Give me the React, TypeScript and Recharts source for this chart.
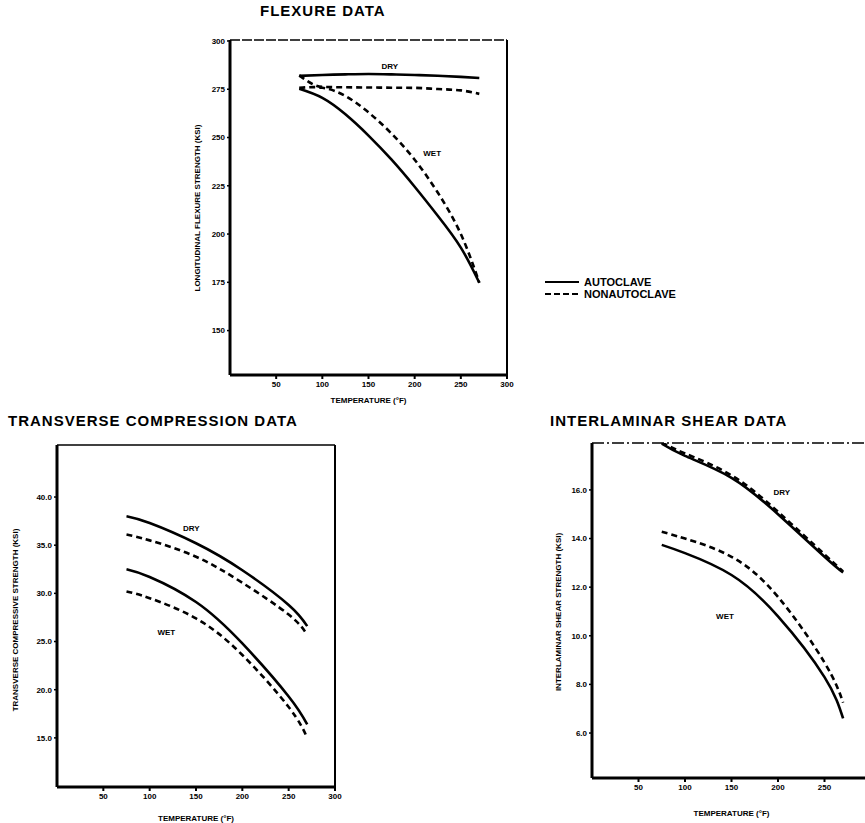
import React from 'react';
import { LineChart, Line, XAxis, YAxis, ReferenceLine, ReferenceDot } from 'recharts';

const FONT = '"Liberation Sans", "DejaVu Sans", Arial, sans-serif';

// temperatures (deg F) and strengths (ksi)
const flexTemps = [75, 100, 125, 150, 175, 200, 225, 250, 270];
const flexDryAuto = [281.9, 282.4, 282.7, 282.9, 282.7, 282.4, 282.0, 281.4, 280.8];
const flexDryNon = [282.2, 276.2, 276.0, 275.9, 275.8, 275.7, 275.1, 274.4, 272.6];
const flexWetAuto = [275.2, 270.5, 262.0, 251.0, 238.5, 224.5, 209.5, 193.0, 174.8];
const flexWetNon = [275.7, 275.8, 271.5, 263.0, 252.0, 238.5, 221.5, 200.0, 174.8];

const tcTemps = [75, 100, 150, 200, 250, 270];
const tcDryAuto = [38.0, 37.3, 35.2, 32.4, 28.8, 26.6];
const tcDryNon = [36.1, 35.5, 33.8, 31.1, 27.8, 25.7];
const tcWetAuto = [32.5, 31.7, 29.1, 24.8, 19.3, 16.4];
const tcWetNon = [30.2, 29.5, 27.4, 23.6, 18.2, 15.0];

const ilsTemps = [75, 100, 150, 200, 250, 270];
const ilsDryAuto = [17.9, 17.4, 16.5, 15.0, 13.25, 12.6];
const ilsDryNon = [17.95, 17.5, 16.6, 15.1, 13.35, 12.65];
const ilsWetAuto = [13.74, 13.4, 12.5, 10.8, 8.3, 6.6];
const ilsWetNon = [14.28, 14.0, 13.25, 11.6, 8.9, 7.25];

const tempTicks = [50, 100, 150, 200, 250, 300];
const ilsTempTicks = [50, 100, 150, 200, 250];
const flexTicks = [150, 175, 200, 225, 250, 275, 300];
const tcTicks = [15, 20, 25, 30, 35, 40];
const ilsTicks = [6, 8, 10, 12, 14, 16];

const build = (temps: number[], da: number[], dn: number[], wa: number[], wn: number[]) =>
  temps.map((t, i) => ({ t, dryAuto: da[i], dryNon: dn[i], wetAuto: wa[i], wetNon: wn[i] }));

const tickStyle = { fontSize: 8, fontWeight: 700, fill: '#000', fontFamily: FONT };

interface PanelProps {
  data: any[];
  width: number;
  height: number;
  marginTop: number;
  marginRight: number;
  yWidth: number;
  xHeight: number;
  xTicks: number[];
  yDomain: [number, number];
  yTicks: number[];
  yDigits: number;
  dryAt: [number, number];
  wetAt: [number, number];
  topDash?: string;
  dryNonCurve?: 'natural' | 'monotone';
}

const Panel: React.FC<PanelProps> = (p) => {
  const lineProps = { type: 'natural' as const, stroke: '#000', strokeWidth: 2.6, dot: false, isAnimationActive: false };
  const labelStyle = { fontSize: 8, fontWeight: 700, fill: '#000', fontFamily: FONT };
  return (
    <LineChart width={p.width} height={p.height} data={p.data}
      margin={{ top: p.marginTop, right: p.marginRight, left: 0, bottom: 0 }}>
      <XAxis dataKey="t" type="number" domain={[0, 300]} ticks={p.xTicks} allowDataOverflow
        height={p.xHeight} axisLine={{ stroke: '#000', strokeWidth: 3 }} tickLine={{ stroke: '#000', strokeWidth: 2 }}
        tickSize={4} tick={tickStyle}
        label={{ value: 'TEMPERATURE (°F)', position: 'insideBottom', offset: 2, style: labelStyle }} />
      <YAxis type="number" domain={p.yDomain} ticks={p.yTicks} allowDataOverflow width={p.yWidth}
        axisLine={{ stroke: '#000', strokeWidth: 3 }} tickLine={{ stroke: '#000', strokeWidth: 1.5 }} tickSize={3}
        tick={tickStyle} tickFormatter={(v: number) => v.toFixed(p.yDigits)} />
      <ReferenceLine y={p.yDomain[1]} stroke="#000" strokeWidth={1.5} strokeDasharray={p.topDash} />
      <ReferenceLine x={300} stroke="#000" strokeWidth={2} />
      <Line {...lineProps} dataKey="dryAuto" />
      <Line {...lineProps} type={p.dryNonCurve || 'natural'} dataKey="dryNon" strokeDasharray="6 4" />
      <Line {...lineProps} dataKey="wetAuto" />
      <Line {...lineProps} dataKey="wetNon" strokeDasharray="6 4" />
      <ReferenceDot x={p.dryAt[0]} y={p.dryAt[1]} r={0} fill="none" stroke="none"
        label={{ value: 'DRY', position: 'center', style: labelStyle }} />
      <ReferenceDot x={p.wetAt[0]} y={p.wetAt[1]} r={0} fill="none" stroke="none"
        label={{ value: 'WET', position: 'center', style: labelStyle }} />
    </LineChart>
  );
};

const titleStyle: React.CSSProperties = {
  position: 'absolute', fontFamily: FONT, fontWeight: 900, fontSize: 15, letterSpacing: 1, color: '#000', whiteSpace: 'nowrap',
};

const yTitle = (text: string, cx: number, cy: number): React.ReactNode => (
  <div style={{
    position: 'absolute', left: cx, top: cy, transform: 'translate(-50%, -50%) rotate(-90deg)',
    fontFamily: FONT, fontWeight: 700, fontSize: 8, whiteSpace: 'nowrap', color: '#000',
  }}>{text}</div>
);

const App: React.FC = () => {
  const flexData = build(flexTemps, flexDryAuto, flexDryNon, flexWetAuto, flexWetNon);
  const tcData = build(tcTemps, tcDryAuto, tcDryNon, tcWetAuto, tcWetNon);
  const ilsData = build(ilsTemps, ilsDryAuto, ilsDryNon, ilsWetAuto, ilsWetNon);

  return (
    <div style={{ position: 'absolute', left: 0, top: 0, width: 865, height: 823, overflow: 'hidden', background: '#fff' }}>
      <div style={{ ...titleStyle, left: 260, top: 2 }}>FLEXURE DATA</div>
      <div style={{ ...titleStyle, left: 8, top: 412 }}>TRANSVERSE COMPRESSION DATA</div>
      <div style={{ ...titleStyle, left: 550, top: 412 }}>INTERLAMINAR SHEAR DATA</div>

      <div style={{ position: 'absolute', left: 170, top: 30 }}>
        <Panel data={flexData} width={357} height={375} marginTop={10} marginRight={20} yWidth={60} xHeight={30}
          xTicks={tempTicks} yDomain={[127, 300.5]} yTicks={flexTicks} yDigits={0}
          dryAt={[173, 287]} wetAt={[219, 242]} topDash="10 2" dryNonCurve="monotone" />
      </div>
      <div style={{ position: 'absolute', left: 0, top: 440 }}>
        <Panel data={tcData} width={343} height={383} marginTop={5} marginRight={8} yWidth={57} xHeight={36}
          xTicks={tempTicks} yDomain={[9.9, 45.4]} yTicks={tcTicks} yDigits={1}
          dryAt={[145, 36.8]} wetAt={[118, 26.0]} />
      </div>
      <div style={{ position: 'absolute', left: 532, top: 438 }}>
        <Panel data={ilsData} width={349} height={380} marginTop={5} marginRight={10} yWidth={60} xHeight={40}
          xTicks={ilsTempTicks} yDomain={[4.15, 17.93]} yTicks={ilsTicks} yDigits={1}
          dryAt={[204, 15.9]} wetAt={[143, 10.8]} topDash="12 3 2 3" />
      </div>

      {yTitle('LONGITUDINAL FLEXURE STRENGTH (KSI)', 197, 208)}
      {yTitle('TRANSVERSE COMPRESSIVE STRENGTH (KSI)', 15, 620)}
      {yTitle('INTERLAMINAR SHEAR STRENGTH (KSI)', 558, 612)}

      <div style={{ position: 'absolute', left: 545, top: 276, fontFamily: FONT, fontWeight: 900, fontSize: 11, color: '#000', lineHeight: '12px' }}>
        <div style={{ display: 'flex', alignItems: 'center' }}>
          <svg width={36} height={12}><line x1={0} y1={6} x2={34} y2={6} stroke="#000" strokeWidth={2} /></svg>
          <span style={{ marginLeft: 3 }}>AUTOCLAVE</span>
        </div>
        <div style={{ display: 'flex', alignItems: 'center' }}>
          <svg width={36} height={12}><line x1={0} y1={6} x2={34} y2={6} stroke="#000" strokeWidth={2} strokeDasharray="6 3" /></svg>
          <span style={{ marginLeft: 3 }}>NONAUTOCLAVE</span>
        </div>
      </div>
    </div>
  );
};

export default App;
